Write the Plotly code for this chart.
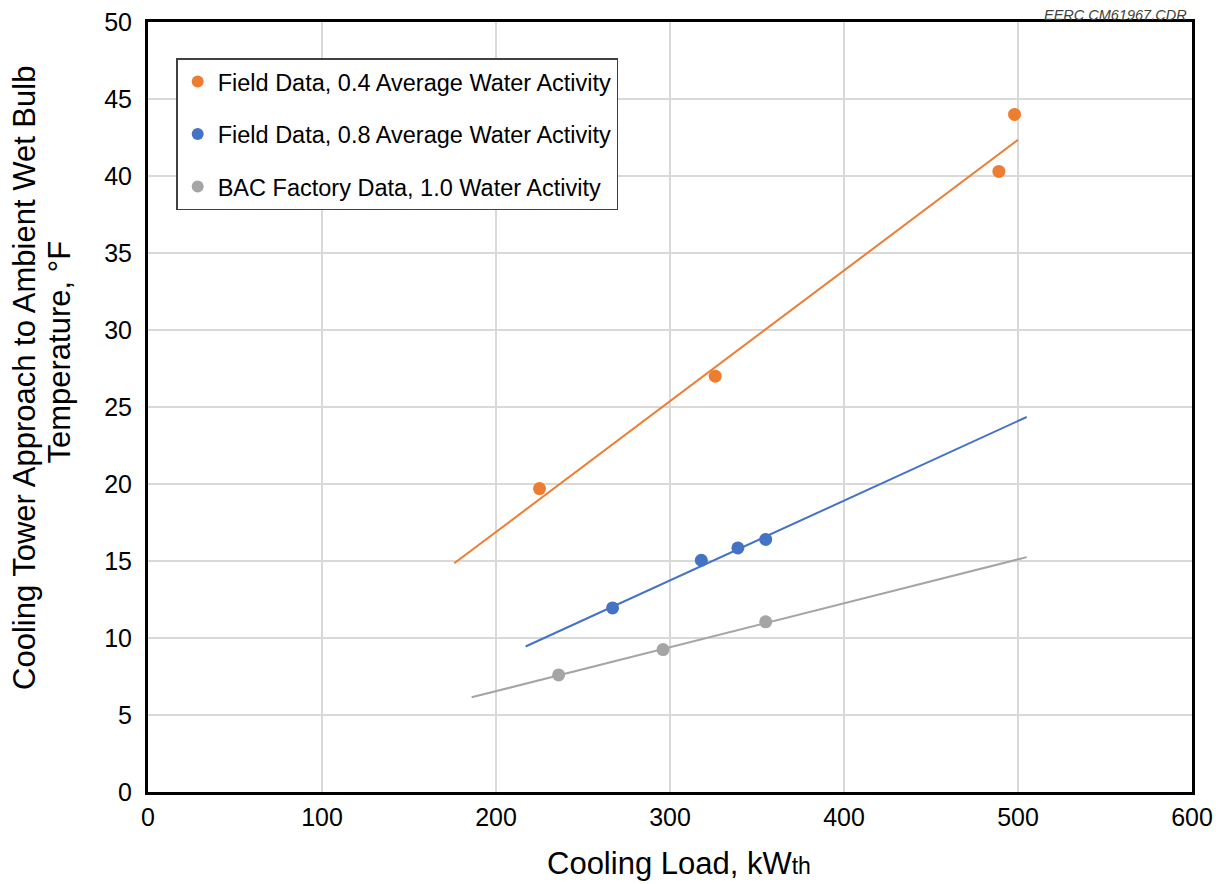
import plotly.graph_objects as go

# Data
orange_x = [225, 326, 489, 498]
orange_y = [19.7, 27.0, 40.3, 44.0]
blue_x = [267, 318, 339, 355]
blue_y = [11.95, 15.05, 15.85, 16.4]
gray_x = [236, 296, 355]
gray_y = [7.6, 9.25, 11.05]

# Trend line end points
orange_fit_x = [176, 500]
orange_fit_y = [14.85, 42.35]
blue_fit_x = [217, 505]
blue_fit_y = [9.45, 24.35]
gray_fit_x = [186, 505]
gray_fit_y = [6.15, 15.25]

names = [
    "Field Data, 0.4 Average Water Activity",
    "Field Data, 0.8 Average Water Activity",
    "BAC Factory Data, 1.0 Water Activity",
]
colors = ["#ED7D31", "#4472C4", "#A5A5A5"]

FONT = "Liberation Sans, Arial, sans-serif"

fig = go.Figure()
series = [
    (orange_x, orange_y, orange_fit_x, orange_fit_y),
    (blue_x, blue_y, blue_fit_x, blue_fit_y),
    (gray_x, gray_y, gray_fit_x, gray_fit_y),
]
for i, (sx, sy, fx, fy) in enumerate(series):
    fig.add_trace(go.Scatter(x=fx, y=fy, mode="lines",
                             line=dict(color=colors[i], width=2),
                             showlegend=False, hoverinfo="skip"))
for i, (sx, sy, fx, fy) in enumerate(series):
    fig.add_trace(go.Scatter(x=sx, y=sy, mode="markers", name=names[i],
                             legendgroup=f"g{i}",
                             marker=dict(color=colors[i], size=13)))

fig.update_layout(
    width=1225, height=884,
    margin=dict(l=140, r=41, t=14, b=100),
    paper_bgcolor="white", plot_bgcolor="white",
    font=dict(family=FONT, color="black", size=24),
    modebar=dict(bgcolor="rgba(0,0,0,0)"),
    legend=dict(x=0.027, y=0.953, xanchor="left", yanchor="top",
                bordercolor="#404040", borderwidth=1.5, bgcolor="white",
                font=dict(size=23.5, family=FONT), tracegroupgap=19,
                itemsizing="constant"),
    xaxis=dict(range=[0, 600], dtick=100, showgrid=True, gridcolor="#D9D9D9",
               gridwidth=1.5, zeroline=False, showline=True, linecolor="black",
               linewidth=3, mirror=True, ticks="", ticklabelstandoff=1,
               tickfont=dict(size=25), automargin=False, ticklabeloverflow="allow"),
    yaxis=dict(range=[0, 50], dtick=5, showgrid=True, gridcolor="#D9D9D9",
               gridwidth=1.5, zeroline=False, showline=True, linecolor="black",
               linewidth=3, mirror=True, ticks="", ticklabelstandoff=8,
               tickfont=dict(size=25), automargin=False, ticklabeloverflow="allow"),
)

# Axis titles
fig.add_annotation(text='Cooling Load, kW<span style="font-size:23px">th</span>',
                   xref="paper", yref="paper", x=0.5086, y=0,
                   xanchor="center", yanchor="middle", yshift=-71,
                   showarrow=False, font=dict(size=31, family=FONT, color="black"))
fig.add_annotation(text="Cooling Tower Approach to Ambient Wet Bulb",
                   xref="paper", yref="paper", x=0, y=0.5377,
                   xanchor="center", yanchor="middle", xshift=-123, textangle=-90,
                   showarrow=False, font=dict(size=31, family=FONT, color="black"))
fig.add_annotation(text="Temperature, °F",
                   xref="paper", yref="paper", x=0, y=0.5714,
                   xanchor="center", yanchor="middle", xshift=-88.5, textangle=-90,
                   showarrow=False, font=dict(size=31, family=FONT, color="black"))

fig.add_annotation(text="<i>EERC CM61967.CDR</i>", xref="paper", yref="paper",
                   x=1.0, y=1.0, xanchor="right", yanchor="bottom", showarrow=False,
                   font=dict(size=14.5, color="#404040", family=FONT),
                   borderpad=0, xshift=-4, yshift=-2)

fig.write_html("out.html", config={"displayModeBar": False})
